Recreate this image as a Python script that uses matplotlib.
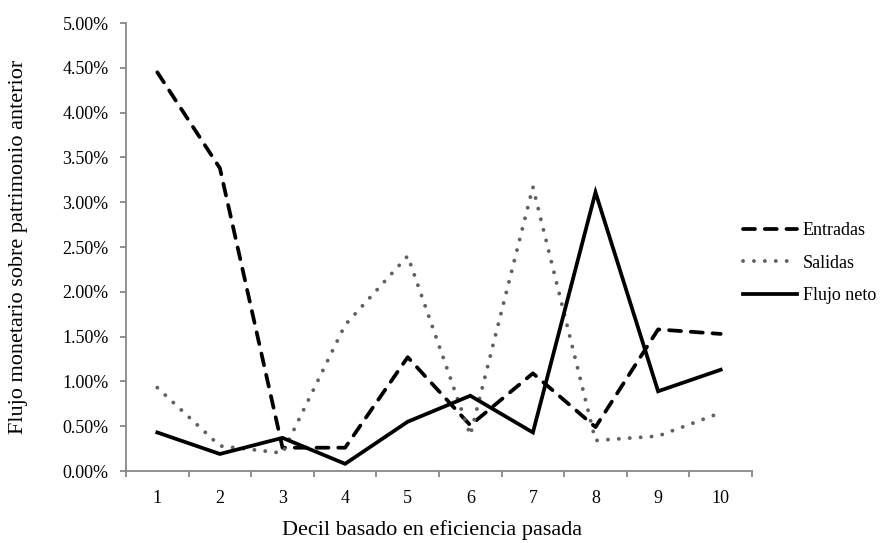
import numpy as np
import matplotlib.pyplot as plt
from matplotlib.ticker import FuncFormatter

# ---------------------------------------------------------------------------
# Data (percent)
# ---------------------------------------------------------------------------
deciles = ["1", "2", "3", "4", "5", "6", "7", "8", "9", "10"]
entradas = [4.45, 3.38, 0.26, 0.26, 1.27, 0.51, 1.09, 0.49, 1.58, 1.53]
salidas = [0.93, 0.28, 0.20, 1.63, 2.40, 0.40, 3.17, 0.34, 0.39, 0.65]
flujo_neto = [0.43, 0.19, 0.37, 0.08, 0.55, 0.84, 0.43, 3.11, 0.89, 1.13]

plt.rcParams['font.family'] = ['Liberation Serif', 'DejaVu Serif']
FS = 13
AX_GRAY = '#888888'

fig = plt.figure(figsize=(8.87, 5.43), dpi=100)
ax = fig.add_axes([126 / 887, 1 - 471 / 543, (752 - 126) / 887, (471 - 23) / 543])

x = np.arange(1, len(deciles) + 1)
ax.plot(x, entradas, color='black', lw=2.7, linestyle=(0, (3.2, 2.6)),
        dash_capstyle='round', label='Entradas')
ax.plot(x, salidas, color='#606060', lw=2.8, linestyle=(0, (0.01, 2.8)),
        dash_capstyle='round', label='Salidas')
ax.plot(x, flujo_neto, color='black', lw=2.7, solid_joinstyle='miter',
        label='Flujo neto')

ax.set_xlim(0.5, len(deciles) + 0.5)
ax.set_ylim(0, 5.0)
ax.set_yticks(np.arange(0, 5.01, 0.5))
ax.yaxis.set_major_formatter(FuncFormatter(lambda v, p: f"{v:.2f}%"))
ax.set_xticks(x)
ax.set_xticklabels(deciles)
ax.set_xticks(np.arange(0.5, len(deciles) + 1, 1), minor=True)

for s in ['top', 'right']:
    ax.spines[s].set_visible(False)
for s in ['left', 'bottom']:
    ax.spines[s].set_color(AX_GRAY)
    ax.spines[s].set_linewidth(1.3)

ax.tick_params(axis='x', which='major', length=0, pad=14, labelsize=FS)
ax.tick_params(axis='x', which='minor', length=4.5, color=AX_GRAY, width=1.3)
ax.tick_params(axis='y', which='major', length=4.5, color=AX_GRAY, width=1.3,
               pad=8, labelsize=FS)

ax.set_xlabel("Decil basado en eficiencia pasada", fontsize=16, va='center')
ax.xaxis.set_label_coords((432 - 126) / 626, -(530 - 471) / 448)
ax.set_ylabel("Flujo monetario sobre patrimonio anterior", fontsize=16,
              va='center')
ax.yaxis.set_label_coords(-(126 - 19) / 626, 0.5)

fig.legend(loc='center left', bbox_to_anchor=(743 / 887, 1 - 263 / 543),
           frameon=False, fontsize=FS, handlelength=3.0, handletextpad=0.3,
           borderpad=0, borderaxespad=0, labelspacing=0.85)

fig.savefig("out.png", dpi=100)
